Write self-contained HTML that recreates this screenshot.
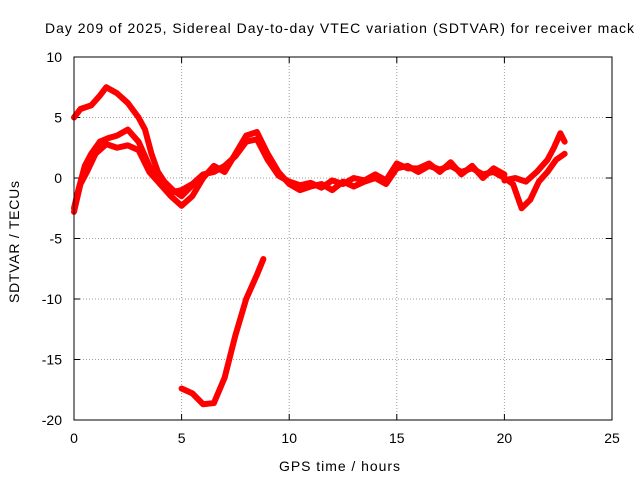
<!DOCTYPE html>
<html><head><meta charset="utf-8"><style>
body{margin:0;background:#fff}
svg{display:block;font-family:"Liberation Sans",sans-serif;font-size:14px}
</style></head><body>
<svg id="chart" width="640" height="480">
<text x="45" y="33" textLength="589" lengthAdjust="spacing">Day 209 of 2025, Sidereal Day-to-day VTEC variation (SDTVAR) for receiver mack</text>
<text x="279" y="471" textLength="121" lengthAdjust="spacing">GPS time / hours</text>
<text transform="translate(19,303) rotate(-90)" textLength="122" lengthAdjust="spacing">SDTVAR / TECUs</text>
<g id="grid"></g><g id="ticks"></g><g id="series"></g>
<rect x="74" y="57" width="538" height="363" fill="none" stroke="#000"/>
</svg>
<script>
const xTicks=[0,5,10,15,20,25];
const yTicks=[10,5,0,-5,-10,-15,-20];
const track1T=[0,0.3,0.8,1.2,1.5,2,2.5,3,3.3,3.6,3.9,4.2,4.6,5,5.5,6];
const track1V=[5,5.7,6,6.8,7.5,7,6.2,5,4,2,0.5,-0.3,-1,-1.5,-0.6,0];
const track2T=[0,0.2,0.5,0.8,1.2,1.6,2,2.5,3,3.5,4,4.5,5,5.5,6,6.5,7,7.5,8,8.5,9,9.5,10,10.5,11,11.5,12,12.5,13,13.5,14,14.5,15,15.5,16,16.5,17,17.5,18,18.5,19,19.5,20];
const track2V=[-2.5,-1,1,2,3,3.3,3.5,4,3,1,-0.5,-1.5,-2.3,-1.5,0,1,0.5,2,3.5,3.8,2,0.5,-0.5,-1,-0.7,-0.5,-1,-0.3,-0.7,-0.3,0,-0.5,0.8,1,0.5,1,0.7,1,0.5,0.8,0.3,0.5,0];
const track3T=[0,0.3,0.6,1,1.5,2,2.5,3,3.5,4,4.5,5,5.5,6,6.5,7,7.5,8,8.5,9,9.5,10,10.5,11,11.5,12,12.5,13,13.5,14,14.5,15,15.5,16,16.5,17,17.5,18,18.5,19,19.5,20];
const track3V=[-2.8,-0.5,0.5,2,2.8,2.5,2.7,2.3,0.5,-0.5,-1.2,-1,-0.5,0.3,0.5,1,1.8,3,3.2,1.5,0.2,-0.3,-0.6,-0.4,-0.8,-0.2,-0.5,0,-0.2,0.3,-0.2,1.2,0.8,0.8,1.2,0.5,1.3,0.3,1,0,0.8,0.3];
const track4T=[5,5.5,6,6.5,7,7.5,8,8.5,8.8];
const track4V=[-17.4,-17.8,-18.7,-18.6,-16.5,-13,-10,-8,-6.7];
const track5T=[20,20.4,20.8,21.2,21.6,22,22.4,22.8];
const track5V=[0,-0.5,-2.5,-1.8,-0.3,0.5,1.5,2];
const track6T=[20,20.5,21,21.5,22,22.3,22.6,22.8];
const track6V=[-0.2,0,-0.3,0.5,1.5,2.5,3.7,3];
const x=t=>74+t*538/25, y=v=>178-v*363/30;
const NS="http://www.w3.org/2000/svg";
const grid=document.getElementById('grid'),ticks=document.getElementById('ticks'),ser=document.getElementById('series');
function mk(tag,a,p){const e=document.createElementNS(NS,tag);for(const k in a)e.setAttribute(k,a[k]);p.appendChild(e);return e;}
xTicks.forEach(t=>{
 const g=mk('line',{x1:x(t),x2:x(t),y1:57,y2:420,stroke:'#a0a0a0','stroke-dasharray':'1,2'},grid);
 
 
 mk('line',{x1:x(t),x2:x(t),y1:420,y2:414,stroke:'#000'},ticks);
 mk('line',{x1:x(t),x2:x(t),y1:57,y2:63,stroke:'#000'},ticks);
 const l=mk('text',{x:x(t),y:443,'text-anchor':'middle'},ticks);l.textContent=t;
 
 
});
yTicks.forEach(v=>{
 const g=mk('line',{x1:74,x2:612,y1:y(v),y2:y(v),stroke:'#a0a0a0','stroke-dasharray':'1,2'},grid);
 
 
 mk('line',{x1:74,x2:80,y1:y(v),y2:y(v),stroke:'#000'},ticks);
 mk('line',{x1:606,x2:612,y1:y(v),y2:y(v),stroke:'#000'},ticks);
 const l=mk('text',{x:62,y:y(v)+5,'text-anchor':'end'},ticks);l.textContent=v;
 
 
});
[[track1T,track1V],[track2T,track2V],[track3T,track3V],[track4T,track4V],[track5T,track5V],[track6T,track6V]].forEach(([T,V],i)=>{
 const pl=mk('polyline',{points:T.map((t,j)=>x(t)+','+y(V[j])).join(' '),fill:'none',stroke:'#f00','stroke-width':6,'stroke-linejoin':'round','stroke-linecap':'round'},ser);
 
 
});
</script>
</body></html>
